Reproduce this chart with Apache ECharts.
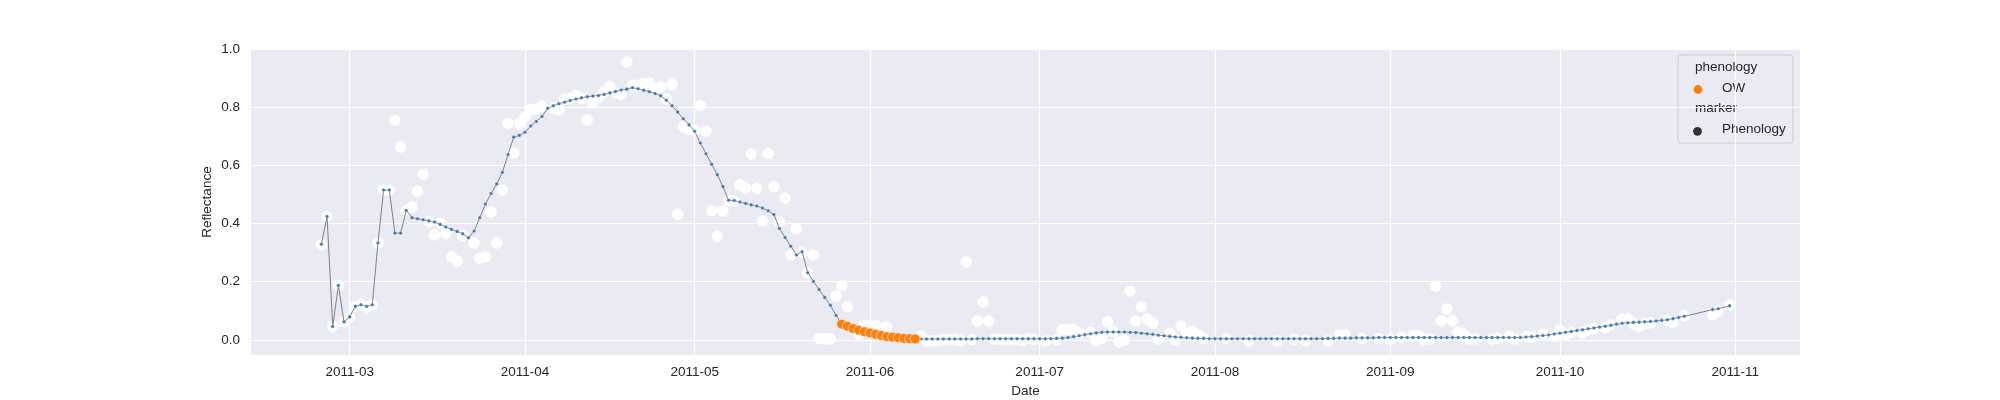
<!DOCTYPE html>
<html>
<head>
    <meta charset="utf-8">
    <title>Reflectance</title>
    <script src="https://cdn.jsdelivr.net/npm/echarts@6.0.0/dist/echarts.min.js"></script>
    <style>
        body, html { margin: 0; padding: 0; background: #fff; }
        #main { width: 2000px; height: 400px; }
    </style>
</head>
<body>
    <div id="main"></div>
    <script>
        // raw observations (white dots)
        const rawDates = [
            '2011-02-24','2011-02-25','2011-02-26','2011-02-27','2011-02-28','2011-03-01','2011-03-02','2011-03-03','2011-03-04','2011-03-05',
            '2011-03-06','2011-03-07','2011-03-08','2011-03-09','2011-03-10','2011-03-11','2011-03-12','2011-03-13','2011-03-14','2011-03-15',
            '2011-03-16','2011-03-17','2011-03-18','2011-03-19','2011-03-20','2011-03-21','2011-03-23','2011-03-24','2011-03-25','2011-03-26',
            '2011-03-27','2011-03-28','2011-03-29','2011-03-30','2011-03-31','2011-04-01','2011-04-02','2011-04-03','2011-04-04','2011-04-06',
            '2011-04-07','2011-04-08','2011-04-09','2011-04-10','2011-04-11','2011-04-12','2011-04-13','2011-04-14','2011-04-15','2011-04-16',
            '2011-04-17','2011-04-18','2011-04-19','2011-04-20','2011-04-21','2011-04-22','2011-04-23','2011-04-24','2011-04-25','2011-04-26',
            '2011-04-27','2011-04-28','2011-04-29','2011-04-30','2011-05-01','2011-05-02','2011-05-03','2011-05-04','2011-05-05','2011-05-06',
            '2011-05-07','2011-05-08','2011-05-09','2011-05-10','2011-05-11','2011-05-12','2011-05-13','2011-05-14','2011-05-15','2011-05-16',
            '2011-05-17','2011-05-18','2011-05-19','2011-05-20','2011-05-21','2011-05-22','2011-05-23','2011-05-24','2011-05-25','2011-05-26',
            '2011-05-27','2011-05-28','2011-05-30','2011-05-31','2011-06-01','2011-06-02','2011-06-04','2011-06-10','2011-06-11','2011-06-12',
            '2011-06-13','2011-06-14','2011-06-15','2011-06-16','2011-06-17','2011-06-18','2011-06-19','2011-06-20','2011-06-21','2011-06-22',
            '2011-06-23','2011-06-24','2011-06-25','2011-06-26','2011-06-27','2011-06-28','2011-06-29','2011-06-30','2011-07-02','2011-07-04',
            '2011-07-05','2011-07-06','2011-07-07','2011-07-08','2011-07-10','2011-07-11','2011-07-12','2011-07-13','2011-07-14','2011-07-15',
            '2011-07-16','2011-07-17','2011-07-18','2011-07-19','2011-07-20','2011-07-21','2011-07-22','2011-07-24','2011-07-25','2011-07-26',
            '2011-07-27','2011-07-28','2011-07-29','2011-07-30','2011-08-03','2011-08-07','2011-08-12','2011-08-15','2011-08-17','2011-08-21',
            '2011-08-23','2011-08-24','2011-08-27','2011-08-30','2011-09-01','2011-09-03','2011-09-05','2011-09-06','2011-09-07','2011-09-08',
            '2011-09-09','2011-09-10','2011-09-11','2011-09-12','2011-09-13','2011-09-14','2011-09-15','2011-09-16','2011-09-19','2011-09-20',
            '2011-09-22','2011-09-23','2011-09-25','2011-09-26','2011-09-28','2011-09-30','2011-10-01','2011-10-02','2011-10-03','2011-10-05',
            '2011-10-06','2011-10-07','2011-10-09','2011-10-10','2011-10-12','2011-10-13','2011-10-14','2011-10-15','2011-10-16','2011-10-17',
            '2011-10-20','2011-10-21','2011-10-23','2011-10-28','2011-10-29','2011-10-31'
        ];
        const rawValues = [
            0.327, 0.424, 0.046, 0.187, 0.062, 0.079, 0.115, 0.121, 0.113, 0.121,
            0.333, 0.515, 0.515, 0.755, 0.663, 0.445, 0.456, 0.511, 0.569, 0.407,
            0.361, 0.401, 0.365, 0.285, 0.270, 0.358, 0.333, 0.281, 0.285, 0.440,
            0.333, 0.515, 0.744, 0.642, 0.744, 0.767, 0.792, 0.794, 0.804, 0.796,
            0.790, 0.828, 0.830, 0.840, 0.830, 0.756, 0.815, 0.834, 0.852, 0.872,
            0.850, 0.844, 0.955, 0.876, 0.874, 0.882, 0.884, 0.865, 0.870, 0.828,
            0.878, 0.432, 0.733, 0.725, 0.721, 0.806, 0.717, 0.444, 0.356, 0.443,
            0.478, 0.478, 0.533, 0.522, 0.639, 0.521, 0.409, 0.641, 0.526, 0.405,
            0.487, 0.292, 0.382, 0.301, 0.230, 0.292, 0.005, 0.003, 0.003, 0.150,
            0.187, 0.114, 0.021, 0.050, 0.047, 0.050, 0.045, 0.012, -0.005, -0.003,
            -0.002, 0.001, 0.001, 0.003, -0.003, 0.268, 0.001, 0.065, 0.130, 0.065,
            0.003, 0.002, 0.001, 0.001, 0.001, -0.002, 0.004, 0.001, -0.003, 0.001,
            0.035, 0.035, 0.035, 0.024, 0.026, -0.003, 0.005, 0.062, 0.029, -0.007,
            -0.001, 0.168, 0.065, 0.114, 0.071, 0.058, 0.003, 0.022, 0.001, 0.048,
            0.021, 0.030, 0.017, 0.005, 0.005, -0.003, -0.003, 0.001, -0.003, -0.003,
            0.017, 0.017, 0.005, 0.005, 0.001, 0.009, 0.013, 0.016, 0.001, 0.003,
            0.185, 0.066, 0.106, 0.066, 0.027, 0.018, 0.003, 0.003, 0.003, 0.006,
            0.012, 0.003, 0.012, 0.009, 0.020, 0.012, 0.033, 0.018, 0.026, 0.024,
            0.035, 0.037, 0.041, 0.052, 0.072, 0.072, 0.056, 0.047, 0.056, 0.058,
            0.067, 0.060, 0.083, 0.086, 0.100, 0.120
        ];

        // smoothed curve, one value per day from lineStart (null = no value that day)
        const lineStart = '2011-02-24';
        const lineValues = [
            // Feb 24-28
            0.329, 0.424, 0.046, 0.187, 0.062,
            // Mar
            0.079, 0.115, 0.121, 0.115, 0.121, 0.333, 0.515, 0.515, 0.367, 0.367,
            0.445, 0.420, 0.416, 0.413, 0.409, 0.405, 0.397, 0.388, 0.380, 0.373,
            0.365, 0.351, 0.374, 0.420, 0.467, 0.503, 0.536, 0.576, 0.637, 0.697, 0.703,
            // Apr
            0.714, 0.735, 0.751, 0.768, 0.796, 0.805, 0.812, 0.817, 0.823, 0.828,
            0.832, 0.836, 0.838, 0.840, 0.844, 0.849, 0.854, 0.859, 0.862, 0.867,
            0.863, 0.858, 0.853, 0.847, 0.839, 0.824, 0.805, 0.783, 0.760, 0.739,
            // May
            0.717, 0.677, 0.640, 0.604, 0.568, 0.527, 0.480, 0.479, 0.474, 0.469,
            0.464, 0.460, 0.453, 0.444, 0.431, 0.383, 0.352, 0.322, 0.292, 0.303,
            0.231, 0.201, 0.173, 0.146, 0.119, 0.084, 0.054, 0.047, 0.039, 0.033, 0.028,
            // Jun
            0.024, 0.019, 0.015, 0.011, 0.009, 0.007, 0.005, 0.004, 0.003, 0.003,
            0.003, 0.003, 0.003, 0.003, 0.003, 0.003, 0.003, 0.003, 0.003, 0.004,
            0.004, 0.004, 0.004, 0.004, 0.004, 0.004, 0.004, 0.004, 0.004, 0.004,
            // Jul
            0.004, 0.004, 0.004, 0.005, 0.006, 0.008, 0.011, 0.014, 0.018, 0.021,
            0.024, 0.026, 0.027, 0.027, 0.027, 0.027, 0.026, 0.025, 0.023, 0.021,
            0.019, 0.016, 0.014, 0.012, 0.010, 0.009, 0.007, 0.006, 0.005, 0.005, 0.004,
            // Aug
            0.004, 0.004, 0.004, 0.004, 0.004, 0.004, 0.004, 0.004, 0.004, 0.004,
            0.004, 0.004, 0.004, 0.004, 0.004, 0.004, 0.004, 0.004, 0.004, 0.004,
            0.005, 0.005, 0.006, 0.006, 0.006, 0.007, 0.007, 0.007, 0.007, 0.008, 0.008,
            // Sep
            0.008, 0.008, 0.008, 0.008, 0.008, 0.008, 0.008, 0.008, 0.008, 0.008,
            0.008, 0.008, 0.008, 0.008, 0.008, 0.008, 0.008, 0.008, 0.008, 0.008,
            0.008, 0.008, 0.008, 0.008, 0.010, 0.011, 0.013, 0.015, 0.017, 0.020,
            // Oct
            0.023, 0.026, 0.029, 0.032, 0.035, 0.038, 0.041, 0.044, 0.047, 0.050,
            0.054, 0.057, 0.059, 0.060, 0.061, 0.062, 0.063, 0.065, 0.067, 0.069,
            0.073, 0.077, 0.081, null, null, null, null, 0.104, 0.107, null, 0.117
        ];

        // phenology: OW
        const owDates = [
            '2011-05-27','2011-05-28','2011-05-29','2011-05-30','2011-05-31','2011-06-01','2011-06-02',
            '2011-06-03','2011-06-04','2011-06-05','2011-06-06','2011-06-07','2011-06-08','2011-06-09'
        ];
        const owValues = [0.054, 0.047, 0.039, 0.033, 0.028, 0.024, 0.019, 0.015, 0.011, 0.009, 0.007, 0.005, 0.004, 0.003];

        const xTicks = ['2011-03', '2011-04', '2011-05', '2011-06', '2011-07', '2011-08', '2011-09', '2011-10', '2011-11'];
        const yTicks = [0, 0.2, 0.4, 0.6, 0.8, 1.0];

        const DAY = 86400000;
        function toTime(s) {
            const p = s.split('-').map(Number);
            return new Date(p[0], p[1] - 1, p[2] || 1).getTime();
        }

        const t0 = toTime(lineStart);
        const lineData = lineValues.map((v, i) => [t0 + i * DAY, v]);
        const rawData = rawDates.map((d, i) => [toTime(d), rawValues[i]]);
        const owData = owDates.map((d, i) => [toTime(d), owValues[i]]);
        const tEnd = lineData[lineData.length - 1][0];
        const pad = (tEnd - t0) * 0.05;
        const xTickTimes = xTicks.map(toTime);

        const FONT = 'Liberation Sans, Arial, sans-serif';
        const TXT = '#262626';

        const chart = echarts.init(document.getElementById('main'), null, { renderer: 'canvas' });

        const option = {
            animation: false,
            backgroundColor: '#ffffff',
            grid: {
                left: 251, right: 200, top: 49, bottom: 45,
                containLabel: false, outerBoundsMode: 'none',
                show: true, backgroundColor: '#eaeaf2', borderWidth: 0
            },
            xAxis: {
                type: 'value',
                min: t0 - pad,
                max: tEnd + pad,
                name: 'Date',
                nameLocation: 'middle',
                nameGap: 29,
                nameMoveOverlap: false,
                nameTextStyle: { fontFamily: FONT, fontSize: 13.5, color: TXT },
                axisLine: { show: false },
                axisTick: { show: false, customValues: xTickTimes },
                axisLabel: {
                    customValues: xTickTimes,
                    formatter: v => xTicks[xTickTimes.indexOf(v)] || '',
                    fontFamily: FONT, fontSize: 13.5, color: TXT, margin: 10
                },
                splitLine: { show: true, lineStyle: { color: '#ffffff', width: 1.2 } }
            },
            yAxis: {
                type: 'value',
                min: -0.052,
                max: 1.0,
                name: 'Reflectance',
                nameLocation: 'middle',
                nameGap: 37,
                nameMoveOverlap: false,
                nameTextStyle: { fontFamily: FONT, fontSize: 13.5, color: TXT },
                axisLine: { show: false },
                axisTick: { show: false, customValues: yTicks },
                axisLabel: {
                    customValues: yTicks,
                    formatter: v => v.toFixed(1),
                    fontFamily: FONT, fontSize: 13.5, color: TXT, margin: 11
                },
                splitLine: { show: true, lineStyle: { color: '#ffffff', width: 1.2 } }
            },
            series: [
                {
                    name: 'raw',
                    type: 'scatter',
                    data: rawData,
                    symbolSize: 11,
                    itemStyle: { color: '#ffffff', borderColor: '#ffffff', borderWidth: 0.5, opacity: 1 },
                    z: 2
                },
                {
                    name: 'Phenology',
                    type: 'line',
                    data: lineData,
                    connectNulls: true,
                    showSymbol: true,
                    symbol: 'circle',
                    symbolSize: 3.6,
                    lineStyle: { color: '#808080', width: 1 },
                    itemStyle: { color: '#3a7ab0', borderColor: '#ffffff', borderWidth: 0.35 },
                    z: 3
                },
                {
                    name: 'OW',
                    type: 'scatter',
                    data: owData,
                    symbolSize: 10,
                    itemStyle: { color: '#ff7f0e', borderColor: '#ffffff', borderWidth: 0.6, opacity: 1 },
                    z: 4
                }
            ],
            graphic: [
                {
                    type: 'group',
                    z: 100,
                    children: [
                        { type: 'rect', shape: { x: 1678, y: 55, width: 115, height: 88, r: 3 },
                          style: { fill: 'rgba(234,234,242,0.8)', stroke: '#cccccc', lineWidth: 1 } },
                        { type: 'text', x: 1695, y: 67, style: { text: 'phenology', font: '13.5px ' + FONT, fill: TXT, verticalAlign: 'middle' } },
                        { type: 'circle', shape: { cx: 1698, cy: 89.5, r: 4.4 }, style: { fill: '#ff7f0e' } },
                        { type: 'text', x: 1722, y: 88, style: { text: 'OW', font: '13.5px ' + FONT, fill: TXT, verticalAlign: 'middle' } },
                        { type: 'text', x: 1695, y: 108.5, style: { text: 'marker', font: '13.5px ' + FONT, fill: TXT, verticalAlign: 'middle' } },
                        { type: 'circle', shape: { cx: 1697.5, cy: 131.3, r: 4.4 }, style: { fill: '#333333' } },
                        { type: 'text', x: 1722, y: 129.5, style: { text: 'Phenology', font: '13.5px ' + FONT, fill: TXT, verticalAlign: 'middle' } }
                    ]
                }
            ]
        };

        chart.setOption(option);
        window.addEventListener('resize', () => chart.resize());
    </script>
</body>
</html>
